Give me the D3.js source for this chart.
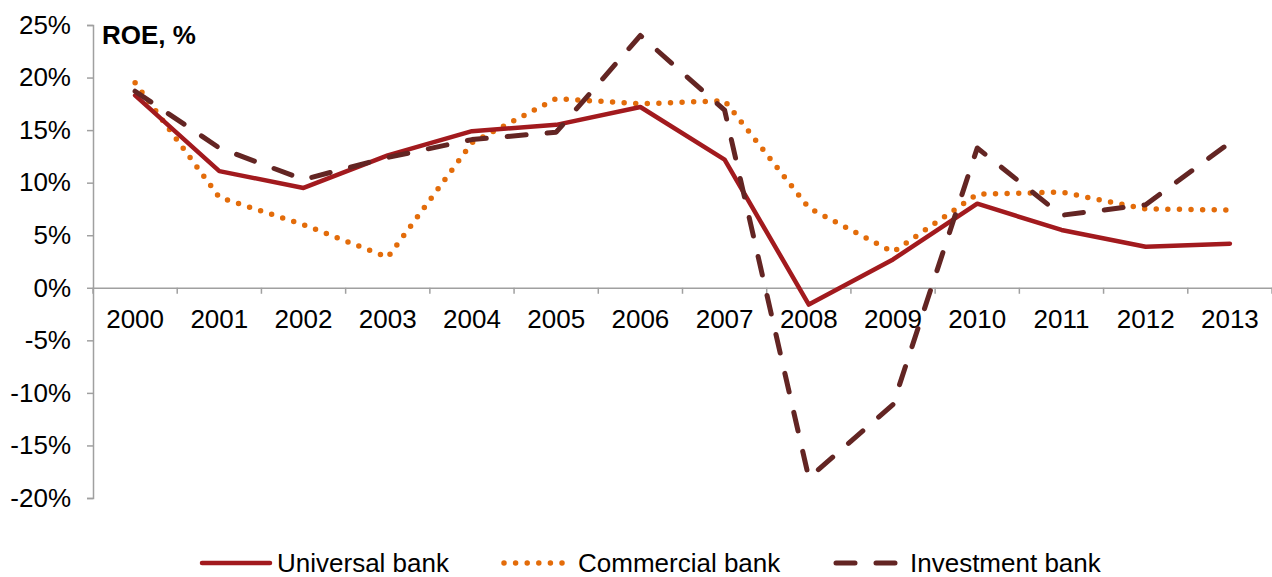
<!DOCTYPE html>
<html><head><meta charset="utf-8">
<script src="https://cdn.jsdelivr.net/npm/d3@7"></script>
<style>
body{margin:0;background:#fff;}
text{font-family:"Liberation Sans",Arial,sans-serif;fill:#000;}
</style></head>
<body><svg id="c" width="1272" height="577"></svg>
<script>
const years = ["2000","2001","2002","2003","2004","2005","2006","2007","2008","2009","2010","2011","2012","2013"];
const universal = [18.3,11.1,9.5,12.6,14.9,15.5,17.2,12.2,-1.6,2.7,8.0,5.5,3.9,4.2];
const commercial = [19.5,8.6,6.0,2.9,13.8,18.0,17.5,17.8,7.6,3.4,8.9,9.1,7.5,7.4];
const investment = [18.7,13.3,10.3,12.4,14.1,14.8,24.0,16.9,-18.1,-11.1,13.3,6.9,7.9,13.8];
const yTicks = [-20,-15,-10,-5,0,5,10,15,20,25];
const seriesNames = ["Universal bank","Commercial bank","Investment bank"];

const svg = d3.select("#c");
const L = 93, R = 1272, T = 25, B = 498;
const FS = 26;
const x = d3.scaleBand().domain(years).range([L, R]);
const y = d3.scaleLinear().domain([-20, 25]).range([B, T]);
const axisColor = "#A0A0A0";

// Y axis
const ya = svg.append("g").attr("transform", `translate(${L},0)`)
  .call(d3.axisLeft(y).tickValues(yTicks).tickSize(6).tickPadding(16).tickFormat(d => d + "%"));
ya.select(".domain").attr("stroke", axisColor).attr("stroke-width", 1.5);
ya.selectAll(".tick line").attr("stroke", axisColor).attr("stroke-width", 1.5);
ya.selectAll(".tick text").attr("font-size", FS).attr("font-family", "Liberation Sans, Arial, sans-serif").attr("fill", "#000");

// X axis at zero
const xa = svg.append("g").attr("transform", `translate(0,${y(0)})`)
  .call(d3.axisBottom(x).tickSize(0).tickPadding(22));
xa.select(".domain").attr("stroke", axisColor).attr("stroke-width", 1.5);
xa.selectAll(".tick text").attr("font-size", FS).attr("font-family", "Liberation Sans, Arial, sans-serif").attr("fill", "#000");
// boundary ticks
const bounds = years.map(d => x(d)).concat([x(years[years.length-1]) + x.bandwidth()]);
svg.append("g").selectAll("line").data(bounds).join("line")
  .attr("x1", d => d).attr("x2", d => d)
  .attr("y1", y(0)).attr("y2", y(0) + 6)
  .attr("stroke", axisColor).attr("stroke-width", 1.5);

// Title
svg.append("text").attr("x", 102).attr("y", 44).attr("font-size", FS).attr("font-weight", "bold").text("ROE, %");

const cx = (d, i) => x(years[i]) + x.bandwidth() / 2;
const line = d3.line().x(cx).y(d => y(d));

const styles = [
  {data: universal, color: "#A21A1E", width: 4.5, dash: null},
  {data: commercial, color: "#E36C0A", width: 5.5, dash: "0 11.6"},
  {data: investment, color: "#632523", width: 5, dash: "19 21"}
];
// draw order: commercial, universal, investment
[1, 0, 2].forEach(k => {
  const s = styles[k];
  svg.append("path").datum(s.data).attr("d", line)
    .attr("fill", "none").attr("stroke", s.color).attr("stroke-width", s.width)
    .attr("stroke-linecap", "round").attr("stroke-linejoin", "round")
    .attr("stroke-dasharray", s.dash);
});

// Legend
const legX = [[202, 270, 277], [504, 564, 578], [836, 898, 910]];
const ly = 563;
styles.forEach((s, i) => {
  svg.append("line").attr("x1", legX[i][0]).attr("x2", legX[i][1]).attr("y1", ly).attr("y2", ly)
    .attr("stroke", s.color).attr("stroke-width", s.width)
    .attr("stroke-linecap", "round").attr("stroke-dasharray", s.dash);
  svg.append("text").attr("x", legX[i][2]).attr("y", 572).attr("font-size", FS).text(seriesNames[i]);
});
</script></body></html>
